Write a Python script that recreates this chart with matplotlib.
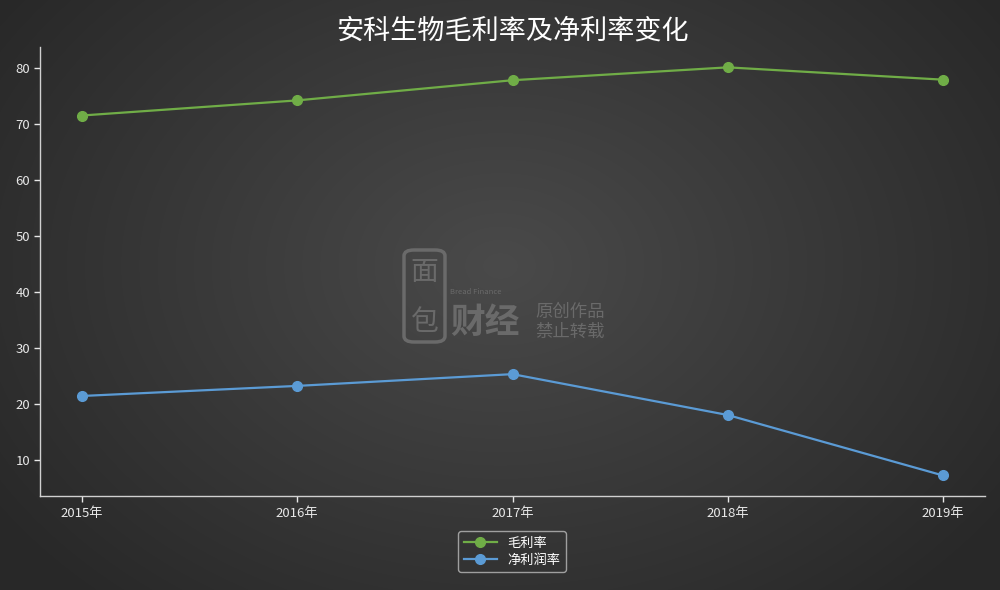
import numpy as np
import matplotlib
matplotlib.use("Agg")
import matplotlib.pyplot as plt
from matplotlib.patches import FancyBboxPatch

plt.rcParams['font.family'] = ['Noto Sans CJK SC', 'DejaVu Sans']

years = ['2015年', '2016年', '2017年', '2018年', '2019年']
gross_margin = [71.6, 74.3, 77.9, 80.2, 78.0]
net_margin = [21.5, 23.3, 25.4, 18.1, 7.3]
yticks = [10, 20, 30, 40, 50, 60, 70, 80]
title = '安科生物毛利率及净利率变化'
series_names = ['毛利率', '净利润率']

fig = plt.figure(figsize=(10, 5.9), dpi=100)

# radial gradient background
bg = fig.add_axes([0, 0, 1, 1], zorder=-10)
h, w = 590, 1000
yy, xx = np.mgrid[0:h, 0:w]
r = np.sqrt(((xx - w * 0.5) / (w * 0.6)) ** 2 + ((yy - h * 0.45) / (h * 0.75)) ** 2)
r = np.clip(r, 0, 1)
val = 0.29 - 0.13 * r
img = np.dstack([val, val, val])
bg.imshow(img, aspect='auto', extent=[0, 1, 0, 1])
bg.axis('off')

# watermark
wm = '#6a6a6a'
bg.add_patch(FancyBboxPatch((0.404, 1 - 342 / 590), 0.041, (342 - 250) / 590,
                            boxstyle='round,pad=0,rounding_size=0.01',
                            fill=False, edgecolor=wm, lw=2.5, transform=bg.transAxes))
fig.text(0.4245, 1 - 272 / 590, '面', color=wm, fontsize=20, ha='center', va='center')
fig.text(0.4245, 1 - 322 / 590, '包', color=wm, fontsize=20, ha='center', va='center')
fig.text(0.485, 1 - 322 / 590, '财经', color=wm, fontsize=25, ha='center', va='center',
         fontweight='bold')
fig.text(0.450, 1 - 292 / 590, 'Bread Finance', color=wm, fontsize=5.5, ha='left', va='center')
fig.text(0.535, 1 - 312 / 590, '原创作品', color=wm, fontsize=12.5, ha='left', va='center')
fig.text(0.535, 1 - 332 / 590, '禁止转载', color=wm, fontsize=12.5, ha='left', va='center')

ax = fig.add_axes([0.04, 0.159, 0.945, 0.761])
ax.patch.set_alpha(0)
x = np.arange(len(years))
ax.plot(x, gross_margin, color='#70ad47', lw=1.6, marker='o', ms=7, label=series_names[0])
ax.plot(x, net_margin, color='#5b9bd5', lw=1.6, marker='o', ms=7, label=series_names[1])

ax.set_xlim(-0.195, 4.195)
ax.set_ylim(3.6, 83.8)
ax.set_xticks(x)
ax.set_xticklabels(years)
ax.set_yticks(yticks)
for s in ['top', 'right']:
    ax.spines[s].set_visible(False)
for s in ['left', 'bottom']:
    ax.spines[s].set_color('#d0d0d0')
    ax.spines[s].set_linewidth(1)
ax.tick_params(colors='#e8e8e8', labelsize=9.5, length=4, width=1)
ax.tick_params(axis='y', pad=3)

fig.text(0.512, 0.948, title, ha='center', va='center', color='white', fontsize=19.5)

leg = fig.legend(loc='center', bbox_to_anchor=(0.512, 0.935 - 0.87), frameon=True,
                 fontsize=9.5, labelcolor='white', handlelength=2.5, borderpad=0.4,
                 labelspacing=0.3)
leg.get_frame().set_facecolor('none')
leg.get_frame().set_edgecolor('#bbbbbb')
leg.get_frame().set_linewidth(1)

fig.savefig('out.png', dpi=100)
